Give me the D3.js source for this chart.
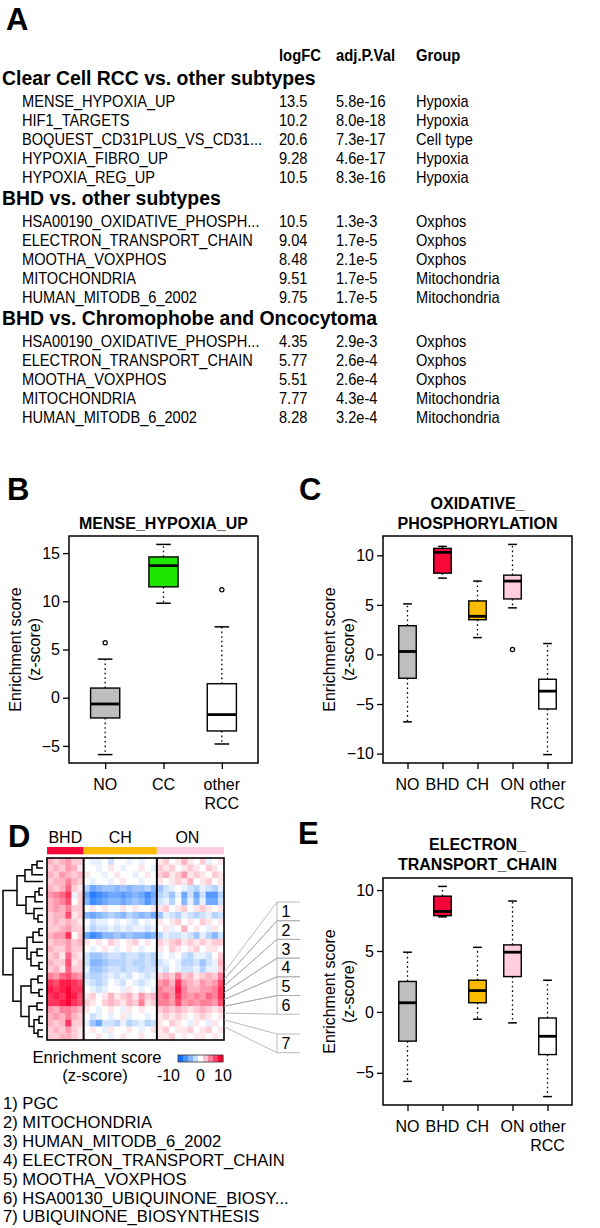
<!DOCTYPE html>
<html>
<head>
<meta charset="utf-8">
<script src="https://cdn.jsdelivr.net/npm/d3@7"></script>
<style>
  body { margin: 0; background: #fff; }
  svg { display: block; }
  text { font-family: "Liberation Sans", Arial, sans-serif; fill: #000; }
</style>
</head>
<body>
<svg id="fig" width="600" height="1228"></svg>
<script>
// ---------- panel A : table ----------
const tableHeaders = ["logFC", "adj.P.Val", "Group"];
const sectionTitles = ["Clear Cell RCC vs. other subtypes", "BHD vs. other subtypes", "BHD vs. Chromophobe and Oncocytoma"];
const sectionSets = [
    ["MENSE_HYPOXIA_UP", "HIF1_TARGETS", "BOQUEST_CD31PLUS_VS_CD31...", "HYPOXIA_FIBRO_UP", "HYPOXIA_REG_UP"],
    ["HSA00190_OXIDATIVE_PHOSPH...", "ELECTRON_TRANSPORT_CHAIN", "MOOTHA_VOXPHOS", "MITOCHONDRIA", "HUMAN_MITODB_6_2002"],
    ["HSA00190_OXIDATIVE_PHOSPH...", "ELECTRON_TRANSPORT_CHAIN", "MOOTHA_VOXPHOS", "MITOCHONDRIA", "HUMAN_MITODB_6_2002"]
];
const sectionLogFC = [[13.5, 10.2, 20.6, 9.28, 10.5], [10.5, 9.04, 8.48, 9.51, 9.75], [4.35, 5.77, 5.51, 7.77, 8.28]];
const sectionPVal = [[5.8e-16, 8.0e-18, 7.3e-17, 4.6e-17, 8.3e-16], [1.3e-3, 1.7e-5, 2.1e-5, 1.7e-5, 1.7e-5], [2.9e-3, 2.6e-4, 2.6e-4, 4.3e-4, 3.2e-4]];
const sectionGroup = [
    ["Hypoxia", "Hypoxia", "Cell type", "Hypoxia", "Hypoxia"],
    ["Oxphos", "Oxphos", "Oxphos", "Mitochondria", "Mitochondria"],
    ["Oxphos", "Oxphos", "Oxphos", "Mitochondria", "Mitochondria"]
];

// ---------- boxplots ----------
const catsB = ["NO", "CC", "other\nRCC"];
const loB = [-5.9, 9.8, -4.8];
const q1B = [-2.1, 11.5, -3.45];
const medB = [-0.65, 13.7, -1.75];
const q3B = [1.0, 14.6, 1.45];
const hiB = [4.0, 15.9, 7.35];
const outB = [[5.7], [], [11.2]];
const ticksB = [-5, 0, 5, 10, 15];

const catsC = ["NO", "BHD", "CH", "ON", "other\nRCC"];
const loC = [-6.8, 7.7, 1.7, 4.7, -10.1];
const q1C = [-2.4, 8.2, 3.5, 5.6, -5.5];
const medC = [0.3, 10.3, 3.85, 7.4, -3.7];
const q3C = [2.9, 10.7, 5.4, 8.0, -2.5];
const hiC = [5.1, 10.9, 7.4, 11.1, 1.1];
const outC = [[], [], [], [0.5], []];
const ticksC = [-10, -5, 0, 5, 10];

const loE = [-5.7, 7.8, -0.6, -0.9, -6.95];
const q1E = [-2.4, 7.9, 0.75, 2.9, -3.5];
const medE = [0.75, 8.25, 1.75, 4.9, -2.0];
const q3E = [2.5, 9.5, 2.6, 5.5, -0.5];
const hiE = [4.9, 10.3, 5.3, 9.1, 2.6];
const outE = [[], [], [], [], []];
const ticksE = [-5, 0, 5, 10];

const groupColors = {NO: "#bebebe", CC: "#1ee600", BHD: "#f8073a", CH: "#fabb00", ON: "#ffcce0", other: "#ffffff"};

// ---------- panel D : heatmap ----------
const heatGroups = ["BHD", "CH", "ON"];
const heatGroupCols = [6, 12, 11];
const heatRows = [
    [3,2,3,4,2,2, 0,-1,-1,0,-2,0,0,-1,0,-1,0,0, 1,2,0,1,3,1,0,2,-1,0,1],
    [2,3,2,4,3,1, 0,0,-1,0,1,0,-1,0,0,1,0,-1, 2,1,2,0,1,2,1,0,2,1,0],
    [3,2,4,3,2,3, 1,0,0,-1,0,1,0,0,-1,0,1,0, 2,3,1,2,4,1,2,1,0,2,1],
    [2,3,3,5,3,2, 0,-1,0,0,-1,0,1,0,0,-1,0,0, 1,0,1,2,1,3,0,1,2,0,1],
    [3,2,3,6,2,1, -3,-6,-5,-4,-4,-5,-4,-5,-4,-4,-3,-5, -4,-2,-1,0,-1,-2,-3,-1,-2,-3,-1],
    [4,5,6,8,-1,2, -6,-9,-8,-7,-6,-6,-7,-6,-5,-6,-8,-6, -3,-2,-4,-1,-6,-2,-6,-2,-7,-7,-3],
    [3,4,5,7,0,2, -5,-8,-7,-6,-5,-5,-6,-5,-4,-5,-7,-5, -2,-1,-3,0,-5,-1,-5,-1,-6,-6,-2],
    [3,4,3,5,2,2, 0,1,0,1,0,0,1,0,1,0,0,1, 1,2,0,1,2,0,1,2,1,0,1],
    [2,3,3,7,1,2, -5,-6,-5,-4,-3,-4,-5,-3,-4,-5,-4,-6, -4,-1,-2,-3,-1,-2,-3,-2,-1,-3,-2],
    [2,3,2,3,2,1, 0,-2,-1,-1,0,-1,0,-1,-2,0,-1,0, 1,0,1,2,0,1,0,2,1,0,1],
    [2,2,3,4,2,2, -1,-3,-2,-2,-1,-2,-1,-2,-1,-1,-2,-1, 0,1,-1,0,3,0,1,0,-1,1,0],
    [3,4,4,8,0,2, -6,-8,-7,-5,-5,-4,-5,-4,-5,-5,-6,-5, -3,-1,-2,-2,-1,-2,-4,-1,-3,-5,-2],
    [2,3,3,4,2,3, 1,0,1,0,2,1,0,1,2,0,1,0, 2,1,2,3,1,2,1,2,1,2,2],
    [3,2,2,4,2,2, 0,-1,0,1,0,-1,0,1,0,-1,0,0, 1,0,2,1,0,1,2,0,1,1,0],
    [2,3,1,6,2,1, -2,-4,-4,-3,-2,-2,-3,-2,-2,-3,-2,-3, -1,0,-1,0,-2,-3,-1,-1,-2,0,2],
    [3,2,2,7,1,2, -2,-5,-5,-4,-3,-3,-3,-2,-3,-3,-2,-3, -2,-1,0,-1,-3,-3,-2,-4,-2,-1,3],
    [2,3,1,6,2,2, -1,-4,-4,-3,-2,-2,-3,-2,-2,-3,-2,-2, -1,-2,0,-1,-2,-2,-1,-3,-1,-1,2],
    [5,4,6,7,5,4, -2,-3,-3,-2,-1,-2,-1,-2,0,-1,-2,-1, 2,3,2,5,2,3,1,2,3,2,5],
    [8,7,9,9,8,7, -1,-2,-3,-2,0,-1,-2,0,-1,-2,-1,0, 4,5,3,8,4,3,2,4,3,4,7],
    [9,8,9,10,8,8, 0,-1,-2,-1,0,0,-1,1,0,-1,0,-1, 5,4,4,9,5,3,3,4,4,5,8],
    [8,9,8,10,9,7, 1,2,0,1,3,1,2,3,1,4,2,3, 5,6,4,8,5,4,5,4,6,5,8],
    [8,8,9,10,8,7, 2,1,0,2,3,2,1,3,2,5,1,2, 5,5,4,7,4,5,4,5,5,4,7],
    [4,3,5,5,4,3, 1,0,-1,0,1,0,-1,1,0,1,0,0, 2,3,2,3,2,1,2,3,2,1,2],
    [3,4,3,5,3,2, 0,-2,-1,0,-1,0,1,-1,0,0,-1,0, 1,2,1,2,1,0,1,2,1,0,1],
    [3,2,3,8,2,2, -1,-4,-6,-2,-2,-3,-1,-3,-2,-1,-3,-2, 1,0,2,1,0,-1,1,0,-1,1,0],
    [2,3,2,4,2,1, 0,1,0,-1,1,0,0,1,0,-1,0,1, 1,2,0,1,1,2,0,1,2,0,1],
    [2,2,3,3,2,1, 0,0,1,0,-1,0,1,0,0,1,0,0, 1,1,2,0,1,0,1,1,0,1,0]
];
// dendrogram: [merge height, left, right], leaves are row indices
const dendro = [40,
    [26, [18, [11, [6, 0, 1], 2], 3], [17, [8, [4, 4, 5], 6], [9, 7, [5, 8, 9]]]],
    [30, [16, [10, [4, 10, 11], 12], [12, [6, 13, 14], [4, 15, 16]]],
         [22, [12, [5, 17, 18], [4, 19, 20]], [14, [6, 21, 22], [9, [4, 23, 24], [5, 25, 26]]]]]];
const markedRows = [17, 18, 19, 20, 21, 22, 24];
const markedLabels = ["1", "2", "3", "4", "5", "6", "7"];
const legendSteps = [-10, -7.5, -5, -2.5, 0, 2.5, 5, 7.5, 10];
const legendTicks = [-10, 0, 10];
const setList = ["1) PGC", "2) MITOCHONDRIA", "3) HUMAN_MITODB_6_2002", "4) ELECTRON_TRANSPORT_CHAIN",
    "5) MOOTHA_VOXPHOS", "6) HSA00130_UBIQUINONE_BIOSY...", "7) UBIQUINONE_BIOSYNTHESIS"];

const svg = d3.select("#fig");

function panelLetter(letter, x, y) {
    svg.append("text").attr("x", x).attr("y", y)
        .attr("font-size", 31).attr("font-weight", "bold").text(letter);
}

// table text is a little taller than it is wide in the original
function tableText(g, x, y, str) {
    g.append("text").attr("transform", `translate(${x},${y}) scale(0.93,1)`)
        .attr("font-size", 15.7).text(str);
}

// ===== A =====
panelLetter("A", 6, 30);
const colX = [279, 336, 416];
svg.append("g").selectAll("text").data(tableHeaders).enter().append("text")
    .attr("transform", (d, i) => `translate(${colX[i]},61) scale(0.95,1)`)
    .attr("font-size", 15.6).attr("font-weight", "bold").text(d => d);

let cursor = 85;
let fmtFC = d3.format(".3"), fmtP = d3.format(".1e");
sectionTitles.forEach(function (title, s) {
    svg.append("text").attr("x", 2).attr("y", cursor)
        .attr("font-size", 19.4).attr("font-weight", "bold").text(title);
    let rowY = cursor + 22;
    sectionSets[s].forEach(function (name, r) {
        let g = svg.append("g");
        let y = rowY + r * 19;
        tableText(g, 22, y, name);
        tableText(g, colX[0], y, fmtFC(sectionLogFC[s][r]));
        tableText(g, colX[1], y, fmtP(sectionPVal[s][r]));
        tableText(g, colX[2], y, sectionGroup[s][r]);
    });
    cursor = rowY + 4 * 19 + 23 - 1;
});

// ===== boxplot panels =====
function boxPanel(cfg) {
    const n = cfg.cats.length;
    const all = d3.merge([cfg.lo, cfg.hi, d3.merge(cfg.out)]);
    const ext = d3.extent(all), pad = (ext[1] - ext[0]) * 0.04;
    const y = d3.scaleLinear().domain([ext[0] - pad, ext[1] + pad]).range([cfg.box.y1, cfg.box.y0]);
    const x = d3.scaleLinear().domain([0.5 - 0.04 * n, n + 0.5 + 0.04 * n]).range([cfg.box.x0, cfg.box.x1]);
    const bw = (x(1) - x(0)) * 0.5;
    const g = svg.append("g");

    // title
    cfg.title.forEach(function (line, i) {
        g.append("text").attr("x", (cfg.box.x0 + cfg.box.x1) / 2).attr("y", cfg.titleY + i * 20)
            .attr("text-anchor", "middle").attr("font-size", 16).attr("font-weight", "bold").text(line);
    });

    // y axis
    const ya = g.append("g").attr("transform", `translate(${cfg.box.x0},0)`)
        .call(d3.axisLeft(y).tickValues(cfg.ticks).tickSize(6).tickPadding(3));
    ya.select(".domain").remove();
    ya.selectAll("line").attr("stroke", "#000").attr("stroke-width", 1.3);
    ya.selectAll("text").attr("font-size", 16).attr("font-family", "Liberation Sans, Arial, sans-serif");

    // x axis
    const xa = g.append("g").attr("transform", `translate(0,${cfg.box.y1})`)
        .call(d3.axisBottom(x).tickValues(d3.range(1, n + 1)).tickSize(6).tickFormat(""));
    xa.select(".domain").remove();
    xa.selectAll("line").attr("stroke", "#000").attr("stroke-width", 1.3);
    cfg.cats.forEach(function (c, i) {
        c.split("\n").forEach(function (part, k) {
            g.append("text").attr("x", x(i + 1)).attr("y", cfg.box.y1 + 27 + k * 18.5)
                .attr("text-anchor", "middle").attr("font-size", 16).text(part);
        });
    });

    // y label
    ["Enrichment score", "(z-score)"].forEach(function (line, k) {
        g.append("text")
            .attr("transform", `translate(${cfg.box.x0 - 54 + k * 19},${(cfg.box.y0 + cfg.box.y1) / 2}) rotate(-90)`)
            .attr("dy", "0.35em").attr("text-anchor", "middle").attr("font-size", 16).text(line);
    });

    // boxes
    cfg.cats.forEach(function (c, i) {
        const cx = x(i + 1);
        const key = c.split("\n")[0];
        // whiskers
        [[cfg.q3[i], cfg.hi[i]], [cfg.q1[i], cfg.lo[i]]].forEach(function (w) {
            g.append("line").attr("x1", cx).attr("x2", cx).attr("y1", y(w[0])).attr("y2", y(w[1]))
                .attr("stroke", "#000").attr("stroke-width", 1.3).attr("stroke-dasharray", "1.6,3");
            g.append("line").attr("x1", cx - bw / 4).attr("x2", cx + bw / 4).attr("y1", y(w[1])).attr("y2", y(w[1]))
                .attr("stroke", "#000").attr("stroke-width", 1.5);
        });
        g.append("rect").attr("x", cx - bw / 2).attr("width", bw)
            .attr("y", y(cfg.q3[i])).attr("height", y(cfg.q1[i]) - y(cfg.q3[i]))
            .attr("fill", groupColors[key]).attr("stroke", "#000").attr("stroke-width", 1.4);
        g.append("line").attr("x1", cx - bw / 2).attr("x2", cx + bw / 2)
            .attr("y1", y(cfg.med[i])).attr("y2", y(cfg.med[i]))
            .attr("stroke", "#000").attr("stroke-width", 2.8);
        g.selectAll(null).data(cfg.out[i]).enter().append("circle")
            .attr("cx", cx).attr("cy", d => y(d)).attr("r", 2.1)
            .attr("fill", "#fff").attr("stroke", "#000").attr("stroke-width", 1.2);
    });

    // frame
    g.append("rect").attr("x", cfg.box.x0).attr("y", cfg.box.y0)
        .attr("width", cfg.box.x1 - cfg.box.x0).attr("height", cfg.box.y1 - cfg.box.y0)
        .attr("fill", "none").attr("stroke", "#000").attr("stroke-width", 1.5);
}

panelLetter("B", 7, 500);
boxPanel({cats: catsB, lo: loB, q1: q1B, med: medB, q3: q3B, hi: hiB, out: outB, ticks: ticksB,
    box: {x0: 69, x1: 258, y0: 536, y1: 763}, title: ["MENSE_HYPOXIA_UP"], titleY: 529});

panelLetter("C", 299, 500);
boxPanel({cats: catsC, lo: loC, q1: q1C, med: medC, q3: q3C, hi: hiC, out: outC, ticks: ticksC,
    box: {x0: 383, x1: 572, y0: 536, y1: 763}, title: ["OXIDATIVE_", "PHOSPHORYLATION"], titleY: 509});

panelLetter("E", 298, 844);
boxPanel({cats: catsC, lo: loE, q1: q1E, med: medE, q3: q3E, hi: hiE, out: outE, ticks: ticksE,
    box: {x0: 383, x1: 572, y0: 878, y1: 1105}, title: ["ELECTRON_", "TRANSPORT_CHAIN"], titleY: 850});

// ===== D : heatmap =====
panelLetter("D", 8, 847);
const nCols = d3.sum(heatGroupCols);
const hx = d3.scaleBand().domain(d3.range(nCols)).range([47, 224]);
const hy = d3.scaleBand().domain(d3.range(heatRows.length)).range([858, 1040]);
const heatColor = d3.scaleLinear().domain([-10, 0, 10]).range(["#0f6fff", "#ffffff", "#ff0033"]).clamp(true);
const groupStart = d3.cumsum([0].concat(heatGroupCols));

const hg = svg.append("g");
heatGroups.forEach(function (grp, i) {
    const xa = hx(groupStart[i]), xb = hx(groupStart[i + 1] - 1) + hx.bandwidth();
    hg.append("rect").attr("x", xa).attr("y", 847).attr("width", xb - xa).attr("height", 7.3)
        .attr("fill", groupColors[grp]);
    hg.append("text").attr("x", (xa + xb) / 2 - (i === 2 ? 3 : 0)).attr("y", 842.5)
        .attr("text-anchor", "middle").attr("font-size", 16).text(grp);
});

heatRows.forEach(function (row, r) {
    hg.selectAll(null).data(row).enter().append("rect")
        .attr("x", (d, c) => hx(c)).attr("y", hy(r))
        .attr("width", hx.bandwidth() + 0.3).attr("height", hy.bandwidth() + 0.3)
        .attr("fill", d => heatColor(d));
});
[1, 2].forEach(function (i) {
    hg.append("line").attr("x1", hx(groupStart[i])).attr("x2", hx(groupStart[i]))
        .attr("y1", 858).attr("y2", 1040).attr("stroke", "#000").attr("stroke-width", 2);
});
hg.append("rect").attr("x", 47).attr("y", 858).attr("width", 177).attr("height", 182)
    .attr("fill", "none").attr("stroke", "#000").attr("stroke-width", 1.6);

// dendrogram
const root = d3.hierarchy(dendro, d => Array.isArray(d) ? d.slice(1) : null);
const dx = d3.scaleLinear().domain([0, 40]).range([43, 3]);
root.eachAfter(function (nd) {
    nd.h = Array.isArray(nd.data) ? nd.data[0] : 0;
    nd.py = nd.children ? d3.mean(nd.children, c => c.py) : hy(nd.data) + hy.bandwidth() / 2;
});
const dg = svg.append("g").attr("stroke", "#000").attr("stroke-width", 1.5).attr("fill", "none");
root.each(function (nd) {
    if (!nd.children) return;
    const a = nd.children[0], b = nd.children[1];
    dg.append("path").attr("d",
        `M${dx(a.h)},${a.py}H${dx(nd.h)}V${b.py}H${dx(b.h)}`);
});

// row markers
const mg = svg.append("g");
const boxTops = [902, 920.7, 939.4, 958.1, 976.8, 995.5, 1034];
const boxH = 18.7;
markedRows.forEach(function (r, k) {
    const t = boxTops[k], b = t + boxH;
    const yTop = hy(r), yBot = hy(r) + hy.bandwidth();
    [[t, yTop], [b, yBot]].forEach(function (p) {
        mg.append("line").attr("x1", 224).attr("y1", p[1]).attr("x2", 277).attr("y2", p[0])
            .attr("stroke", "#a8a8a8").attr("stroke-width", 0.8);
        mg.append("line").attr("x1", 277).attr("y1", p[0]).attr("x2", 300).attr("y2", p[0])
            .attr("stroke", "#a8a8a8").attr("stroke-width", 0.8);
    });
    mg.append("line").attr("x1", 277).attr("y1", t).attr("x2", 277).attr("y2", b)
        .attr("stroke", "#a8a8a8").attr("stroke-width", 0.8);
    mg.append("text").attr("x", 286).attr("y", t + boxH / 2).attr("dy", "0.36em")
        .attr("text-anchor", "middle").attr("font-size", 16).text(markedLabels[k]);
});

// legend
const lx = d3.scaleLinear().domain([-11.25, 11.25]).range([178, 223]);
const lw = lx(2.5) - lx(0);
svg.append("g").selectAll("rect").data(legendSteps).enter().append("rect")
    .attr("x", d => lx(d) - lw / 2).attr("y", 1055).attr("width", lw + 0.3).attr("height", 7)
    .attr("fill", d => heatColor(d));
svg.append("rect").attr("x", 178).attr("y", 1055).attr("width", 45).attr("height", 7)
    .attr("fill", "none").attr("stroke", "#333").attr("stroke-width", 0.8);
svg.append("g").selectAll("text").data(legendTicks).enter().append("text")
    .attr("x", d => d < 0 ? lx(-11.25) + 2 : (d > 0 ? lx(11.25) : lx(0)))
    .attr("y", 1081).attr("text-anchor", d => d < 0 ? "end" : "middle")
    .attr("font-size", 16).text(d => d);
svg.append("text").attr("x", 97).attr("y", 1063).attr("text-anchor", "middle")
    .attr("font-size", 16.6).text("Enrichment score");
svg.append("text").attr("x", 95).attr("y", 1081).attr("text-anchor", "middle")
    .attr("font-size", 16.6).text("(z-score)");

// list of marked gene sets
svg.append("g").selectAll("text").data(setList).enter().append("text")
    .attr("x", 3).attr("y", (d, i) => 1109 + i * 18.9)
    .attr("font-size", 16.6).text(d => d);
</script>
</body>
</html>
